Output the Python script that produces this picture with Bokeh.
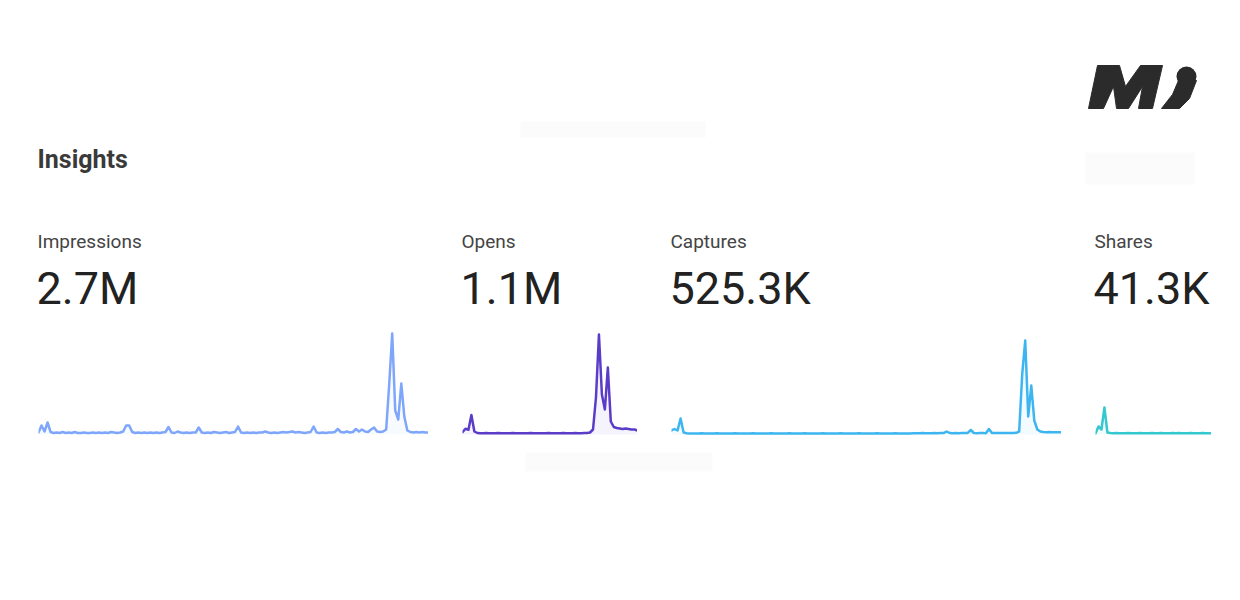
from bokeh.plotting import figure
from bokeh.layouts import column, row
from bokeh.models import Range1d, Label, Spacer
from bokeh.embed import file_html
from bokeh.resources import INLINE

# ---------------- data ----------------
metric_names = ["Impressions", "Opens", "Captures", "Shares"]
metric_totals = ["2.7M", "1.1M", "525.3K", "41.3K"]
metric_colors = ["#7ea6fb", "#5b3cc8", "#3db5f0", "#36c8cf"]

# daily values (thousands)
impressions = [2, 9, 3, 12, 2.5, 1.5, 2, 1.5, 2.5, 1.5,
               2, 1.5, 2.5, 1.5, 1.5, 2, 1.5, 1.5, 2, 1.5,
               2, 1.5, 2, 1.5, 2.5, 2, 1.5, 2, 3, 9,
               9, 2.5, 1.5, 2, 1.5, 2, 1.5, 2, 1.5, 2,
               1.5, 2, 2.5, 7.5, 2, 1.5, 3, 2, 1.5, 2,
               1.5, 2, 2, 7, 2, 1.5, 2, 1.5, 2.5, 2,
               1.5, 2, 2.5, 1.5, 2, 2.5, 8, 2, 1.5, 2,
               1.5, 2, 1.5, 2, 2, 3, 2, 1.5, 2, 1.5,
               2, 2.5, 2, 2.5, 3, 2, 2.5, 2, 1.5, 2,
               2.5, 8, 2, 1.5, 2, 1.5, 2, 2, 2.5, 5.5,
               2.5, 2, 3, 2, 2.5, 5.5, 3, 5, 3, 2.5,
               5, 7, 3, 2.5, 3, 5, 50, 101, 24, 15,
               51, 18, 4, 2.5, 2, 2.5, 2, 2.5, 2, 2]

opens = [2.3, 5.7, 4.7, 19.5, 3, 1.5, 1.3, 1.2, 1.4, 1.3,
         1.2, 1.3, 1.4, 1.2, 1.3, 1.2, 1.3, 1.4, 1.2, 1.3,
         1.2, 1.3, 1.2, 1.4, 1.3, 1.2, 1.3, 1.2, 1.3, 1.4,
         1.2, 1.3, 1.2, 1.3, 1.4, 1.3, 1.2, 1.3, 1.4, 1.3,
         1.3, 1.4, 1.5, 2, 5, 37, 100, 40, 25, 67,
         13, 7.5, 6.5, 6, 5.5, 6, 5.5, 5, 5, 4]

captures = [4, 5.5, 4, 16, 2, 1.2, 1, 1.1, 0.9, 1,
            1.2, 1, 0.9, 1.1, 1, 1.2, 1, 0.9, 1, 1.1,
            1, 1.2, 1, 0.9, 1.1, 1, 1, 1.2, 1, 0.9,
            1, 1.1, 1, 1.2, 1, 0.9, 1.1, 1, 1, 1.2,
            1, 0.9, 1, 1.1, 1.2, 1, 1, 0.9, 1.1, 1,
            1.2, 1, 0.9, 1, 1.1, 1, 1.2, 1, 1, 0.9,
            1.1, 1, 1.2, 1, 0.9, 1, 1.1, 1, 1.2, 1,
            1, 0.9, 1.1, 1, 1.2, 1, 0.9, 1, 1.1, 1,
            1.2, 1.3, 1.2, 1.4, 1.2, 1.3, 1.2, 1.4, 1.3, 1.5,
            1.4, 3, 1.5, 1.3, 1.4, 1.3, 1.5, 1.4, 1.6, 4.5,
            1.5, 1.3, 1.4, 1.5, 1.3, 5.5, 1.5, 1.4, 1.5, 1.6,
            1.5, 1.4, 1.6, 1.5, 1.7, 3, 60, 94, 18, 49,
            14, 5, 3, 2.5, 2.3, 2.4, 2.3, 2.3, 2.2, 2.3]

shares = [1, 8, 5, 27, 2, 1.5, 1.3, 1.4, 1.3, 1.2,
          1.3, 1.4, 1.3, 1.2, 1.3, 1.5, 1.3, 1.2, 1.3, 1.4,
          1.3, 1.2, 1.4, 1.3, 1.2, 1.3, 1.4, 1.3, 1.5, 1.3,
          1.2, 1.3, 1.4, 1.3, 1.2, 1.3, 1.4, 1.3, 1.2, 1.3]

series = [impressions, opens, captures, shares]

# ---------------- layout constants ----------------
PAGE_W = 1232
HEAD_H = 330
SPARK_H = 110
FOOT_H = 152
left_gaps = [38, 34, 34, 34]
spark_widths = [390, 175, 390, 116]
text_x = [37, 461, 670, 1094]
Y_MIN, Y_MAX = -6, 104

FONT = "Roboto"


def blank(w, h, xr, yr):
    p = figure(width=w, height=h, x_range=xr, y_range=yr,
               output_backend="svg", toolbar_location=None,
               x_axis_type=None, y_axis_type=None, min_border=0,
               outline_line_color=None, background_fill_color="white",
               border_fill_color="white")
    p.xgrid.visible = False
    p.ygrid.visible = False
    return p


# ---------------- header ----------------
head = blank(PAGE_W, HEAD_H, Range1d(0, PAGE_W), Range1d(HEAD_H, 0))

# faint placeholder boxes
head.quad(left=[520, 1085], right=[705, 1194], top=[121, 152], bottom=[137, 184],
          fill_color="#fbfbfb", line_color=None)

head.add_layout(Label(x=37, y=159, text="Insights", text_font=FONT,
                      text_font_style="bold", text_font_size="25px",
                      text_color="#3a3a3a", text_baseline="alphabetic"))

for name, total, tx in zip(metric_names, metric_totals, text_x):
    head.add_layout(Label(x=tx, y=241, text=name, text_font=FONT,
                          text_font_size="19px", text_color="#444444",
                          text_baseline="alphabetic"))
    head.add_layout(Label(x=tx - 1, y=288, text=total, text_font=FONT,
                          text_font_size="45px", text_color="#222222",
                          text_baseline="alphabetic"))

# logo
logo_m_x = [1088, 1097, 1119, 1125, 1140, 1162, 1152, 1138, 1142, 1128, 1116, 1113, 1103]
logo_m_y = [108, 65, 65, 86, 65, 65, 108, 108, 86, 108, 108, 86, 108]
head.patch(logo_m_x, logo_m_y, fill_color="#2b2b2b", line_color="#2b2b2b", line_width=1)
tail_x = [1178, 1196, 1189, 1179, 1161, 1172]
tail_y = [80, 80, 98, 108, 108, 94]
head.patch(tail_x, tail_y, fill_color="#2b2b2b", line_color="#2b2b2b", line_width=1)
head.scatter([1186], [76], size=20, marker="circle", fill_color="#2b2b2b", line_color=None)

# ---------------- sparklines ----------------
spark_children = []
for vals, col, gap, w in zip(series, metric_colors, left_gaps, spark_widths):
    xs = list(range(len(vals)))
    sp = blank(w, SPARK_H, Range1d(0, len(vals) - 1), Range1d(Y_MIN, Y_MAX))
    sp.varea(x=xs, y1=[0] * len(vals), y2=vals, fill_color=col, fill_alpha=0.06)
    sp.line(xs, vals, line_color=col, line_width=2.5, line_join="round", line_cap="round")
    spark_children.append(Spacer(width=gap, height=SPARK_H))
    spark_children.append(sp)
used = sum(left_gaps) + sum(spark_widths)
spark_children.append(Spacer(width=PAGE_W - used, height=SPARK_H))
spark_row = row(spark_children, spacing=0)

# ---------------- footer ----------------
foot = blank(PAGE_W, FOOT_H, Range1d(0, PAGE_W), Range1d(FOOT_H, 0))
foot.quad(left=[525], right=[712], top=[12], bottom=[31], fill_color="#fbfbfb", line_color=None)

layout = column([head, spark_row, foot], spacing=0)

open("out.html", "w").write(file_html(layout, INLINE))
